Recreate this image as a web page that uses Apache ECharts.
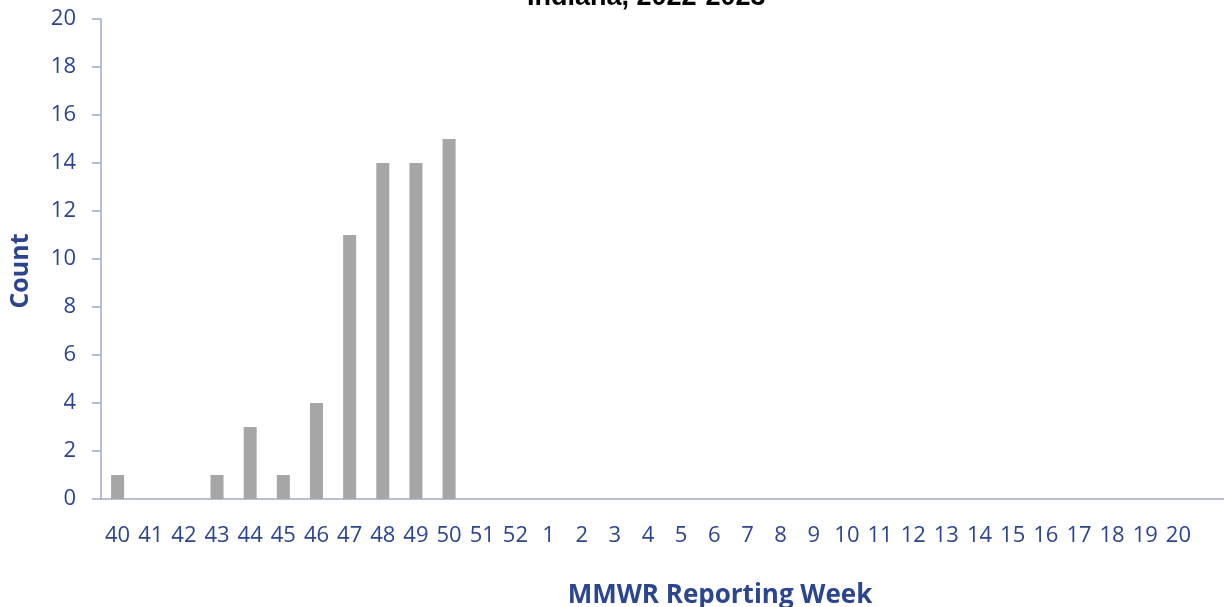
<!DOCTYPE html>
<html>
<head>
<meta charset="utf-8">
<script src="https://cdn.jsdelivr.net/npm/echarts@6/dist/echarts.min.js"></script>
<style>
  html, body { margin: 0; padding: 0; background: #fff; }
  #main { width: 1224px; height: 607px; }
</style>
</head>
<body>
<div id="main"></div>
<script>
// MMWR weeks 40-52 then 1-20
var weeks = ['40','41','42','43','44','45','46','47','48','49','50','51','52',
             '1','2','3','4','5','6','7','8','9','10','11','12','13','14','15','16','17','18','19','20'];
var counts = [1, 0, 0, 1, 3, 1, 4, 11, 14, 14, 15];
var yTicks = [0, 2, 4, 6, 8, 10, 12, 14, 16, 18, 20];

var blue = '#2b4590';
var axisGray = '#a3abc6';

var myChart = echarts.init(document.getElementById('main'));
var option = {
    animation: false,
    title: {
        text: 'Indiana, 2022-2023',
        left: 527,
        top: -16,
        padding: 0,
        textStyle: { fontFamily: 'Liberation Sans', fontWeight: 'bold', fontSize: 27, color: '#000' }
    },
    grid: { left: 101, right: 29, top: 19, bottom: 108, outerBoundsMode: 'none', containLabel: false },
    xAxis: {
        type: 'category',
        data: weeks,
        name: 'MMWR Reporting Week',
        nameLocation: 'middle',
        nameGap: 84,
        nameTextStyle: { fontFamily: 'Open Sans', fontWeight: 'bold', fontSize: 26, color: blue, padding: [0, 0, 0, 144] },
        axisLine: { lineStyle: { color: axisGray, width: 1.5 } },
        axisTick: { show: false },
        axisLabel: { color: blue, fontFamily: 'Open Sans', fontSize: 22, margin: 26, interval: 0 }
    },
    yAxis: {
        type: 'value',
        min: yTicks[0],
        max: yTicks[yTicks.length - 1],
        interval: 2,
        name: 'Count',
        nameLocation: 'middle',
        nameGap: 68,
        nameTextStyle: { fontFamily: 'Open Sans', fontWeight: 'bold', fontSize: 25, color: blue, padding: [0, 24, 0, 0] },
        splitLine: { show: false },
        axisLine: { show: true, lineStyle: { color: axisGray, width: 1.5 } },
        axisTick: { show: true, length: 9, lineStyle: { color: axisGray, width: 1.5 } },
        axisLabel: { color: blue, fontFamily: 'Open Sans', fontSize: 22, margin: 25 }
    },
    series: [{
        type: 'bar',
        data: counts,
        barWidth: 13,
        itemStyle: { color: '#a6a6a6' }
    }],
    graphic: [{
        type: 'line',
        shape: { x1: 1195, y1: 499, x2: 1224, y2: 499 },
        style: { stroke: axisGray, lineWidth: 1.5 }
    }]
};
myChart.setOption(option);
</script>
</body>
</html>
